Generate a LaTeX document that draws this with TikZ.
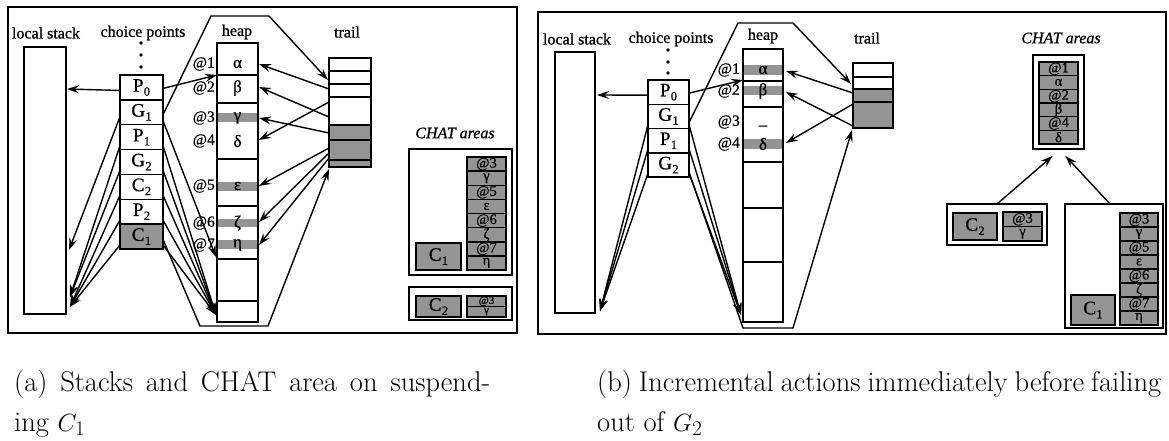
\documentclass[tikz,border=0pt]{standalone}
\usepackage{fontspec}
\newfontfamily\tms[FakeBold=0.8]{Liberation Serif}
\usetikzlibrary{arrows.meta,calc}

% choice point label: letter with a lowered index
\newcommand\cpl[2]{#1\kern0.3pt\raisebox{-4pt}{\fontsize{12.5}{12.5}\selectfont #2}}

\tikzset{
  corners/.style n args={4}{minimum width={(#3)-(#1)}, minimum height={(#4)-(#2)},
    at={({((#1)+(#3))/2},{((#2)+(#4))/2})}},
  cellbox/.style={draw, line width=1.5pt, inner sep=0pt, outer sep=0pt},
  panelframe/.style={draw, line width=2pt},
  grayfill/.style={fill=black!42},
  link/.style={line width=1.4pt, line join=miter},
  arr/.style={link, -{Stealth[length=12pt,width=8pt,inset=4.5pt]}},
  lbl/.style={inner sep=0pt, font=\tms\fontsize{16}{18}\selectfont},
  greek/.style={inner sep=0pt, font=\tms\fontsize{17}{18}\selectfont},
  addr/.style={inner sep=0pt, anchor=east, font=\tms\fontsize{15.5}{16}\selectfont},
  cpbox/.style={cellbox, font=\tms\fontsize{19}{20}\selectfont},
  chatcell/.style={cellbox, grayfill, font=\tms\fontsize{14.5}{14}\selectfont},
  smallcell/.style={chatcell, font=\tms\fontsize{11}{11}\selectfont},
  chathead/.style={inner sep=0pt, font=\tms\itshape\fontsize{16}{18}\selectfont},
  captext/.style={inner sep=0pt, anchor=base west, font=\fontsize{28.5}{31}\selectfont},
}

\begin{document}
\begin{tikzpicture}[x=1pt,y=-1pt]
\useasboundingbox (0,0) rectangle (1169,440);
\fill[white] (0,0) rectangle (1169,440);

%================ (a) stacks when C1 suspends ================
\draw[panelframe] (8,7) rectangle (517,333);
\node[lbl] (a-lsl) at (46,33) {local stack};
\node[lbl] (a-cpl) at (143,33) {choice points};
\node[lbl] (a-hpl) at (237,32) {heap};
\node[lbl] (a-trl) at (347,32) {trail};

% local stack
\node[cellbox, corners={24}{47}{66}{314}] (a-ls) {};

% choice point stack
\foreach \yy in {43,55,67} \fill (141,\yy) circle (1.8);
\node[cpbox, corners={120}{75}{163}{99.9}] (a-P0) {\cpl P0};
\node[cpbox, corners={120}{99.9}{163}{124.7}] (a-G1) {\cpl G1};
\node[cpbox, corners={120}{124.7}{163}{149.6}] (a-P1) {\cpl P1};
\node[cpbox, corners={120}{149.6}{163}{174.4}] (a-G2) {\cpl G2};
\node[cpbox, corners={120}{174.4}{163}{199.3}] (a-C2) {\cpl C2};
\node[cpbox, corners={120}{199.3}{163}{224.1}] (a-P2) {\cpl P2};
\node[cpbox, grayfill, corners={120}{224.1}{163}{249}] (a-C1) {\cpl C1};

% heap
\foreach \ya/\yb in {113/122,182/191,219/227,240/249} \fill[grayfill] (217,\ya) rectangle (258,\yb);
\node[cellbox, corners={217}{43}{258}{322}] (a-heap) {};
\foreach \yy in {75,103,159,206,259,301} \draw[cellbox] (217,\yy) -- (258,\yy);
\node[greek] (a-v1) at (237.5,64) {α};
\node[greek] (a-v2) at (237.5,88) {β};
\node[greek] (a-v3) at (237.5,118) {γ};
\node[greek] (a-v4) at (237.5,141) {δ};
\node[greek] (a-v5) at (237.5,186) {ε};
\node[greek] (a-v6) at (237.5,223) {ζ};
\node[greek] (a-v7) at (237.5,245) {η};
\node[addr] (a-ad1) at (215,64) {@1};
\node[addr] (a-ad2) at (215,88) {@2};
\node[addr] (a-ad3) at (215,118) {@3};
\node[addr] (a-ad4) at (215,141) {@4};
\node[addr] (a-ad5) at (215,186) {@5};
\node[addr] (a-ad6) at (215,223) {@6};
\node[addr] (a-ad7) at (215,245) {@7};

% trail
\fill[grayfill] (329,125) rectangle (371,167);
\node[cellbox, corners={329}{58}{371}{167}] (a-trail) {};
\foreach \yy in {71,84,97,125,140,160} \draw[cellbox] (329,\yy) -- (371,\yy);

% end points of the pointers
\coordinate (a-ls1) at (67,89);
\coordinate (a-ls2) at (69,250);
\coordinate (a-ls3) at (70,297);
\coordinate (a-ls4) at (70,307);
\coordinate (a-h1) at (217,75);
\coordinate (a-h2) at (216,257);
\coordinate (a-h3) at (216,315);
\coordinate (a-hx1) at (211,16);
\coordinate (a-hx2) at (269,16);
\coordinate (a-hx3) at (200,326);
\coordinate (a-hx4) at (268,326);
\coordinate (a-t0) at (328,80);
\coordinate (a-t9) at (329,169);
\foreach \k/\ty/\hy in {1/89/64, 2/117/87, 3/133/118, 4/102/140, 5/148/186, 6/153/222, 7/158/245} {
  \coordinate (a-t\k) at (329,\ty);
  \coordinate (a-r\k) at (259,\hy);
}

% choice points -> local stack
\draw[arr] ($(a-P0.west)+(0,3)$) -- (a-ls1);
\draw[arr] ($(a-G1.south west)+(0,-8)$) -- (a-ls2);
\foreach \c in {P1,G2} \draw[arr] ($(a-\c.south west)+(0,-4)$) -- (a-ls3);
\foreach \c in {C2,P2,C1} \draw[arr] ($(a-\c.south west)+(0,-4)$) -- (a-ls4);
% choice points -> heap
\draw[arr] ($(a-P0.east)+(0,1)$) -- (a-h1);
\draw[arr] ($(a-G1.south east)+(0,-4)$) -- (a-h2);
\foreach \c in {P1,G2,C2,P2,C1} \draw[arr] ($(a-\c.south east)+(0,-4)$) -- (a-h3);
% frozen segment outline
\draw[arr] ($(a-G1.south east)+(0,-10)$) -- (a-hx1) -- (a-hx2) -- (a-t0);
\draw[arr] ($(a-C1.east)+(0,3)$) -- (a-hx3) -- (a-hx4) -- (a-t9);
% trail -> heap
\foreach \k in {1,...,7} \draw[arr] (a-t\k) -- (a-r\k);

% CHAT areas
\node[chathead] (a-chl) at (455,133) {CHAT areas};
\node[cellbox, corners={409}{149}{512}{275}] (a-ch1) {};
\node[cpbox, grayfill, corners={416}{243}{461}{270}] (a-ch1c) {\cpl C1};
\foreach \t [count=\i] in {@3,γ,@5,ε,@6,ζ,@7,η}
  \node[chatcell, corners={467}{157+(\i-1)*14.125}{506}{157+\i*14.125}] (a-ch1-\i) {\t};
\node[cellbox, corners={409}{287}{512}{320}] (a-ch2) {};
\node[cpbox, grayfill, corners={416}{296}{461}{317}] (a-ch2c) {\cpl C2};
\foreach \t [count=\i] in {@3,γ}
  \node[smallcell, corners={467}{296+(\i-1)*10.5}{506}{296+\i*10.5}] (a-ch2-\i) {\t};

%================ (b) just before failing out of G2 ================
\draw[panelframe] (538,12) rectangle (1166,334);
\node[lbl] (b-lsl) at (577,39) {local stack};
\node[lbl] (b-cpl) at (671,39) {choice points};
\node[lbl] (b-hpl) at (763,36) {heap};
\node[lbl] (b-trl) at (867,38) {trail};

\node[cellbox, corners={555}{52}{595}{313}] (b-ls) {};

\foreach \yy in {50,62,73} \fill (668,\yy) circle (1.8);
\node[cpbox, corners={648}{80}{689}{104.3}] (b-P0) {\cpl P0};
\node[cpbox, corners={648}{104.3}{689}{128.6}] (b-G1) {\cpl G1};
\node[cpbox, corners={648}{128.6}{689}{152.9}] (b-P1) {\cpl P1};
\node[cpbox, corners={648}{152.9}{689}{177.2}] (b-G2) {\cpl G2};

% heap
\foreach \ya/\yb in {65/75,86/95,139/149} \fill[grayfill] (743,\ya) rectangle (783,\yb);
\node[cellbox, corners={743}{49}{783}{322}] (b-heap) {};
\foreach \yy in {81,107,162,208,262} \draw[cellbox] (743,\yy) -- (783,\yy);
\node[greek] (b-v1) at (763,70) {α};
\node[greek] (b-v2) at (763,91) {β};
\node[greek] (b-v3) at (763,128) {–};
\node[greek] (b-v4) at (763,144) {δ};
\node[addr] (b-ad1) at (740,70) {@1};
\node[addr] (b-ad2) at (740,91) {@2};
\node[addr] (b-ad3) at (740,122) {@3};
\node[addr] (b-ad4) at (740,144) {@4};

% trail
\fill[grayfill] (853,89) rectangle (893,128);
\node[cellbox, corners={853}{63}{893}{128}] (b-trail) {};
\foreach \yy in {77,89,102} \draw[cellbox] (853,\yy) -- (893,\yy);

% end points of the pointers
\coordinate (b-ls1) at (597,95);
\coordinate (b-ls2) at (600,311);
\coordinate (b-h1) at (743,80);
\coordinate (b-h2) at (741,315);
\coordinate (b-hx1) at (738,23);
\coordinate (b-hx2) at (793,23);
\coordinate (b-hx3) at (743,328);
\coordinate (b-hx4) at (793,328);
\coordinate (b-t0) at (851,84);
\coordinate (b-t9) at (852,130);
\foreach \k/\ty/\hy in {1/93/71, 2/126/92, 3/104/143} {
  \coordinate (b-t\k) at (853,\ty);
  \coordinate (b-r\k) at (786,\hy);
}

\draw[arr] ($(b-P0.west)+(0,3)$) -- (b-ls1);
\foreach \c in {G1,P1,G2} \draw[arr] ($(b-\c.south west)+(0,-4)$) -- (b-ls2);
\draw[arr] ($(b-P0.east)+(0,1)$) -- (b-h1);
\foreach \c in {G1,P1,G2} \draw[arr] ($(b-\c.south east)+(0,-4)$) -- (b-h2);
\draw[arr] ($(b-G1.south east)+(0,-6)$) -- (b-hx1) -- (b-hx2) -- (b-t0);
\draw[arr] ($(b-G2.east)+(0,7)$) -- (b-hx3) -- (b-hx4) -- (b-t9);
\foreach \k in {1,2,3} \draw[arr] (b-t\k) -- (b-r\k);

% CHAT areas
\node[chathead] (b-chl) at (1061,38) {CHAT areas};
\node[cellbox, corners={1033}{55}{1084}{149}] (b-ch1) {};
\foreach \t [count=\i] in {@1,α,@2,β,@4,δ}
  \node[chatcell, corners={1039}{62+(\i-1)*13.67}{1078}{62+\i*13.67}] (b-ch1-\i) {\t};
\node[cellbox, corners={947}{204}{1047}{245}] (b-ch2) {};
\node[cpbox, grayfill, corners={953}{213}{997}{240}] (b-ch2c) {\cpl C2};
\foreach \t [count=\i] in {@3,γ}
  \node[chatcell, corners={1003}{212+(\i-1)*14.5}{1042}{212+\i*14.5}] (b-ch2-\i) {\t};
\node[cellbox, corners={1065}{204}{1163}{328}] (b-ch3) {};
\node[cpbox, grayfill, corners={1071}{295}{1115}{325}] (b-ch3c) {\cpl C1};
\foreach \t [count=\i] in {@3,γ,@5,ε,@6,ζ,@7,η}
  \node[chatcell, corners={1120}{213+(\i-1)*14}{1158}{213+\i*14}] (b-ch3-\i) {\t};
\draw[arr] (b-ch2.north) -- ($(b-ch1.south)+(-6,7)$);
\draw[arr] ($(b-ch3.north)+(-4,0)$) -- ($(b-ch1.south)+(7,7)$);

%================ captions ================
\node[captext] (capA1) at (14,391) {\makebox[476pt][s]{(a) Stacks and CHAT area on suspend-}};
\node[captext] (capA2) at (14,431) {ing $C_1$};
\node[captext] (capB1) at (597,391) {\makebox[564pt][s]{(b) Incremental actions immediately before failing}};
\node[captext] (capB2) at (597,431) {out of $G_2$};
\end{tikzpicture}
\end{document}
